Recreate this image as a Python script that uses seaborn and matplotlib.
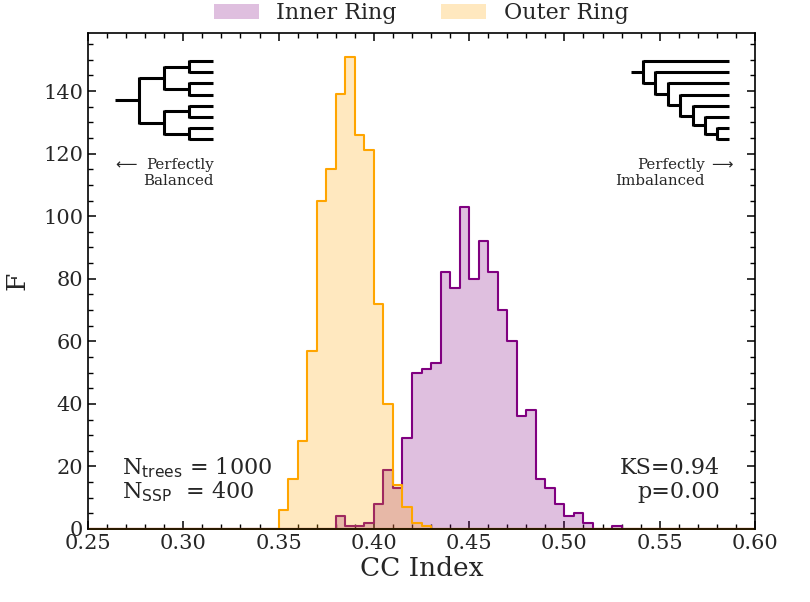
import numpy as np
import pandas as pd
import matplotlib
matplotlib.use("Agg")
import matplotlib.pyplot as plt
from matplotlib.patches import Patch
from matplotlib.ticker import MultipleLocator
import seaborn as sns

# histogram counts per 0.005-wide bin
bin_width = 0.005
x_min, x_max = 0.25, 0.60

inner_start = 0.380
inner_counts = [4, 1, 1, 2, 8, 19, 13, 29, 50, 51, 53, 82, 77, 103, 80, 92,
                82, 70, 60, 36, 38, 16, 13, 8, 4, 5, 2, 0, 0, 1]
outer_start = 0.350
outer_counts = [6, 16, 28, 57, 105, 115, 139, 151, 126, 121, 72, 40, 14, 7, 2, 1]

series_labels = ["Inner Ring", "Outer Ring"]
series_colors = ["purple", "orange"]

n_trees = 1000
n_ssp = 400
ks_stat = 0.94
p_value = 0.00

sns.set_style("ticks")
plt.rcParams["font.family"] = ["DejaVu Serif"]
plt.rcParams["xtick.direction"] = "in"
plt.rcParams["ytick.direction"] = "in"
plt.rcParams["xtick.top"] = True
plt.rcParams["ytick.right"] = True


def to_frame(start, counts):
    cc = [start + bin_width * (i + 0.5) for i in range(len(counts))]
    return pd.DataFrame({"cc": cc, "count": counts})


edges = list(np.linspace(x_min, x_max, int(round((x_max - x_min) / bin_width)) + 1))

fig = plt.figure(figsize=(8.1, 6.02), dpi=100)
ax = fig.add_axes([88 / 810, 73 / 602, 667 / 810, 496 / 602])

for start, counts, color in [(inner_start, inner_counts, series_colors[0]),
                             (outer_start, outer_counts, series_colors[1])]:
    sns.histplot(data=to_frame(start, counts), x="cc", weights="count", bins=edges,
                 element="step", fill=True, color=color, alpha=0.25,
                 linewidth=1.5, ax=ax)

ax.set_xlim(x_min, x_max)
ax.set_ylim(bottom=0)
ax.xaxis.set_major_locator(MultipleLocator(0.05))
ax.xaxis.set_minor_locator(MultipleLocator(0.01))
ax.yaxis.set_major_locator(MultipleLocator(20))
ax.yaxis.set_minor_locator(MultipleLocator(5))
ax.tick_params(which="major", length=6, width=1.1, labelsize=15, color="black")
ax.tick_params(which="minor", length=3.5, width=1.0, color="black")
ax.tick_params(top=True, right=True, which="both")
for s in ax.spines.values():
    s.set_linewidth(1.2)
    s.set_color("black")
ax.set_xlabel("CC Index", fontsize=19, labelpad=2)
ax.set_ylabel("F", fontsize=19, labelpad=10)

ax.text(0.051, 0.123, r"N$_{\mathrm{trees}}$ = %d" % n_trees, transform=ax.transAxes,
        fontsize=16, ha="left", va="center")
ax.text(0.051, 0.075, r"N$_{\mathrm{SSP}}$  = %d" % n_ssp, transform=ax.transAxes,
        fontsize=16, ha="left", va="center")
ax.text(0.948, 0.123, "KS=%.2f" % ks_stat, transform=ax.transAxes,
        fontsize=16, ha="right", va="center")
ax.text(0.948, 0.075, "p=%.2f" % p_value, transform=ax.transAxes,
        fontsize=16, ha="right", va="center")

handles = [Patch(facecolor=c, alpha=0.25, edgecolor="none") for c in series_colors]
fig.legend(handles, series_labels, loc="center", bbox_to_anchor=(0.52, 0.978),
           ncol=2, frameon=False, fontsize=16, handlelength=2.0,
           handletextpad=0.8, columnspacing=2.0)

# tree icons, drawn on an overlay in pixel units
deco = fig.add_axes([0, 0, 1, 1])
deco.set_xlim(0, 810)
deco.set_ylim(602, 0)
deco.axis("off")


def draw_tree(tree, x0, step, x_leaf, y_top, gap, stub):
    leaf_y = [y_top]

    def walk(node, depth):
        x = x0 + depth * step
        if not isinstance(node, tuple):
            y = leaf_y[0]
            leaf_y[0] += gap
            return y, x_leaf
        ys = []
        for child in node:
            y, xc = walk(child, depth + 1)
            deco.plot([x, xc], [y, y], color="black", lw=2.2, solid_capstyle="butt")
            ys.append(y)
        deco.plot([x, x], [min(ys) - 1, max(ys) + 1], color="black", lw=2.2,
                  solid_capstyle="butt")
        return (min(ys) + max(ys)) / 2, x

    y_root, _ = walk(tree, 0)
    deco.plot([x0 - stub, x0], [y_root, y_root], color="black", lw=2.2,
              solid_capstyle="butt")


balanced = (((0, 0), (0, 0)), ((0, 0), (0, 0)))
caterpillar = (0, (0, (0, (0, (0, (0, (0, 0)))))))
draw_tree(balanced, 139, 25, 213, 61, 11.2, 24)
draw_tree(caterpillar, 643, 12.4, 729, 61, 11.2, 12)

ax.text(0.188, 0.717, "Perfectly\nBalanced", transform=ax.transAxes, fontsize=10.8,
        ha="right", va="center", multialignment="right", linespacing=1.2)
ax.text(0.056, 0.736, r"$\longleftarrow$", transform=ax.transAxes,
        fontsize=10.8, ha="center", va="center")
ax.text(0.925, 0.717, "Perfectly\nImbalanced", transform=ax.transAxes, fontsize=10.8,
        ha="right", va="center", multialignment="right", linespacing=1.2)
ax.text(0.951, 0.736, r"$\longrightarrow$", transform=ax.transAxes,
        fontsize=10.8, ha="center", va="center")

fig.savefig("out.png", dpi=100)
